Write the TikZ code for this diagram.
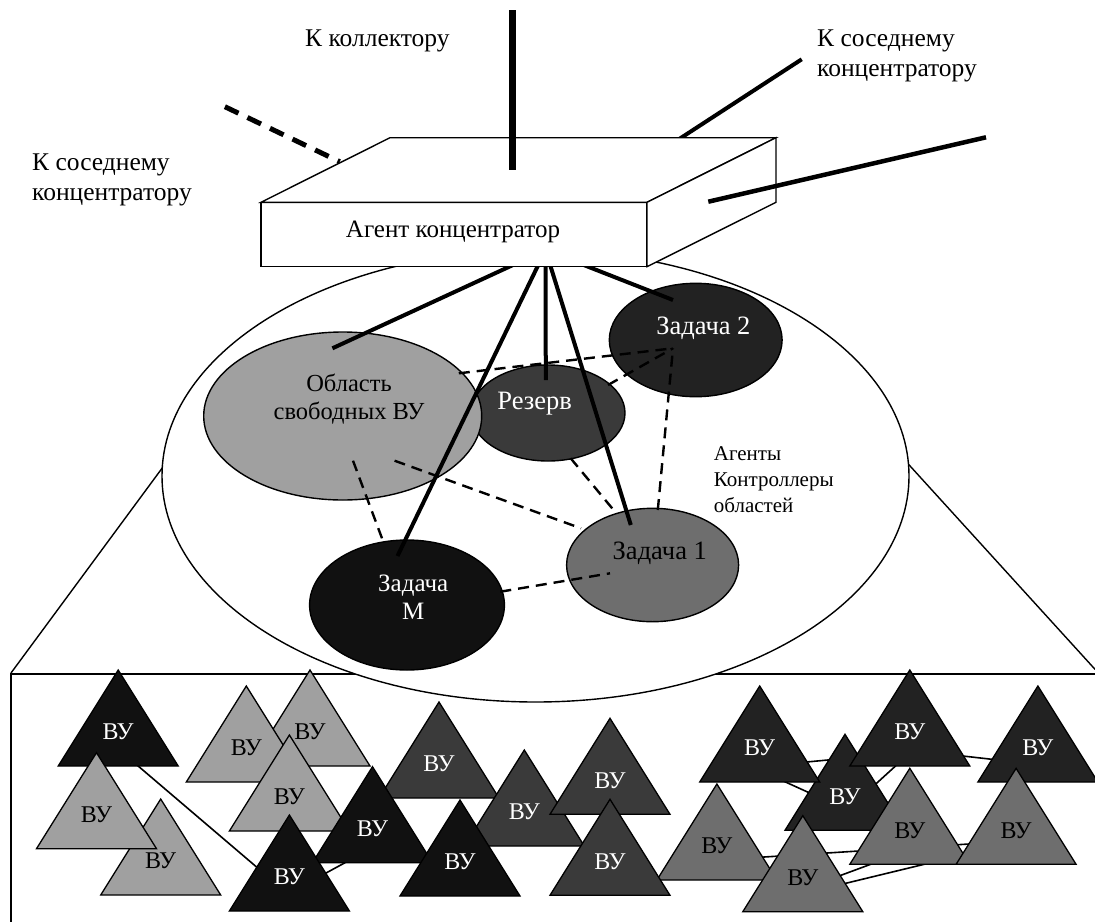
\documentclass[tikz,border=0pt]{standalone}
\usepackage{fontspec}
\setmainfont{Liberation Serif}
\newfontfamily\tnr{Liberation Serif}
\usetikzlibrary{shapes.geometric,calc,backgrounds}
\definecolor{lgray}{HTML}{A0A0A0}
\definecolor{mgray}{HTML}{6E6E6E}
\definecolor{dgray}{HTML}{3A3A3A}
\definecolor{vdgray}{HTML}{222222}
\definecolor{nblack}{HTML}{111111}

% one computing unit: triangle with apex at (#2,#3), label node #1
\newcommand\vu[5]{%
  \filldraw[tri, fill=#4] (#2,#3) -- ++(-60,96) -- ++(120,0) -- cycle;
  \node[vutext, text=#5] (#1) at (#2,#3+62) {ВУ};}

\begin{document}
\begin{tikzpicture}[x=1pt, y=-1pt,
  edge/.style={line width=1.4pt},
  area/.style={ellipse, draw, line width=1.4pt, inner sep=0pt, outer sep=0pt},
  link/.style={line width=4pt},
  dlink/.style={line width=2.4pt, dash pattern=on 11pt off 7pt},
  tri/.style={draw, line width=1.3pt, line join=miter},
  tie/.style={line width=1.6pt},
  vutext/.style={font=\tnr\fontsize{24}{26}\selectfont, inner sep=0pt},
  lbl/.style={font=\tnr\fontsize{25.5}{30}\selectfont, inner sep=0pt, align=left},
  etext/.style={font=\tnr\fontsize{25}{28}\selectfont, inner sep=0pt, align=center},
]
\useasboundingbox (0,0) rectangle (1095,921);

% ---- zoom cone from the controller area to the unit field ----
\coordinate (ctrlc) at (535.5,476);
\coordinate (cl) at (11,673);
\coordinate (cr) at (1095,669.3);
\draw[edge] ($(ctrlc)+(-360,-26)$) -- (cl);
\draw[edge] ($(ctrlc)+(360,-26)$) -- (cr);
\draw[edge] (1100,674) -- (11,674) -- (11,930);

% ---- controller area ----
\node[area, fill=white, minimum width=747pt, minimum height=452pt] (ctrl) at (ctrlc) {};

% ---- links to neighbouring hubs that pass behind the box ----
\coordinate (nbl) at (224.9,106.7);
\coordinate (nbr) at (801.7,59.3);
\coordinate (hubnw) at (261,202.3);
\draw[line width=5pt, dash pattern=on 15pt off 10pt] (nbl) -- ($(hubnw)+(78.7,-40.6)$);
\draw[line width=4pt] (nbr) -- ($(hubnw)+(417,-62.5)$);

% ---- regions ----
\node[area, fill=dgray, minimum width=154pt, minimum height=96pt] (rez) at (548,413) {};
\node[area, fill=lgray, minimum width=278pt, minimum height=168pt] (obl) at (342.7,416) {};
\node[area, fill=vdgray, minimum width=172.8pt, minimum height=113.4pt] (z2) at (695.7,340) {};
\node[area, fill=mgray, minimum width=172pt, minimum height=113.4pt] (z1) at (652.6,565) {};
\node[area, fill=nblack, minimum width=194.8pt, minimum height=130pt] (zm) at (407,605) {};

% ---- hub to region links (fan out from behind the box) ----
\coordinate (fan) at (545.5,250);
\draw[link] (fan) -- ($(obl.center)+(-10.3,-67.7)$);
\draw[link] (fan) -- ($(zm.center)+(-9.5,-49)$);
\draw[link] (fan) -- ($(rez.center)+(-2.2,-33)$);
\draw[link] (fan) -- ($(z1.center)+(-21.8,-40)$);
\draw[link] (fan) -- ($(z2.center)+(-22.7,-40)$);

% ---- hub box ----
\node[draw, fill=white, line width=1.4pt, minimum width=386pt, minimum height=64.4pt,
      inner sep=0pt, outer sep=0pt] (hub) at (454,234.5) {};
\filldraw[edge, fill=white, line join=miter] (hub.north west) -- ++(129,-64.6) -- ++(386,0)
  -- (hub.north east) -- cycle;
\filldraw[edge, fill=white, line join=miter] (hub.north east) -- ++(129,-64.6) -- ++(0,64.6)
  -- (hub.south east) -- cycle;
\node[font=\tnr\fontsize{25}{28}\selectfont, inner sep=0pt, anchor=base] (hubtxt) at (453,237.3)
  {Агент концентратор};

% ---- collector and right neighbour links ----
\coordinate (coll) at (512.7,10);
\coordinate (far) at (986,137.3);
\draw[line width=7.5pt] (coll) -- ($(hub.north)+(58.7,-32.3)$);
\draw[line width=4.5pt] ($(hub.north east)+(61.3,-0.6)$) -- (far);

% ---- links between regions ----
\draw[dlink] ($(obl.center)+(116.1,-42.7)$) -- ($(z2.center)+(-22.7,8.3)$);
\draw[dlink] ($(rez.center)+(60,-28)$) -- ($(z2.center)+(-22.7,8.3)$);
\draw[dlink] ($(z1.center)+(5.2,-55)$) -- ($(z2.center)+(-22.7,8.3)$);
\draw[dlink] ($(obl.center)+(10.3,44.7)$) -- ($(zm.center)+(-25,-66.7)$);
\draw[dlink] ($(obl.center)+(51.9,44.7)$) -- ($(z1.center)+(-71.6,-36.7)$);
\draw[dlink] ($(rez.center)+(22.7,45.3)$) -- ($(z1.center)+(-36.3,-51.7)$);
\draw[dlink] ($(zm.center)+(93.3,-13.3)$) -- ($(z1.center)+(-42.6,8.3)$);

% ---- region captions ----
\node[etext, font=\tnr\fontsize{24.5}{28}\selectfont, anchor=north] (obltxt) at (349,373.6)
  {Область\\свободных ВУ};
\node[etext, text=white, font=\tnr\fontsize{26.5}{28}\selectfont, anchor=base] (reztxt) at (534.7,409) {Резерв};
\node[etext, text=white, font=\tnr\fontsize{26.5}{28}\selectfont, anchor=base] (z2txt) at (703.4,334) {Задача 2};
\node[etext, font=\tnr\fontsize{26.5}{28}\selectfont, anchor=base] (z1txt) at (659.8,559) {Задача 1};
\node[etext, text=white, anchor=north] (zmtxt) at (413.2,575) {Задача\\M};

% ---- outer captions ----
\node[lbl, anchor=north west] (lcoll) at (305,29.5) {К коллектору};
\node[lbl, anchor=north west] (lnr) at (817,29.3) {К соседнему\\концентратору};
\node[lbl, anchor=north west] (lnl) at (32,154) {К соседнему\\концентратору};
\node[font=\tnr\fontsize{21}{26}\selectfont, inner sep=0pt, align=left, anchor=north west] (lagents)
  at (713.7,446.3) {Агенты\\Контроллеры\\областей};

% ---- computing units ----
\vu{t3}{160.7}{799}{lgray}{black}
\vu{t1}{118.2}{670}{nblack}{white}
\vu{t2}{96.5}{752.7}{lgray}{black}
\vu{t5}{310}{670}{lgray}{black}
\vu{t4}{246.3}{686}{lgray}{black}
\vu{t6}{289.4}{735}{lgray}{black}
\vu{t9}{439}{702}{dgray}{white}
\vu{t8}{372.5}{766.7}{nblack}{white}
\vu{t7}{289.4}{815}{nblack}{white}
\vu{t11}{524.3}{750}{dgray}{white}
\vu{t10}{460}{800}{nblack}{white}
\vu{t12}{610}{718.3}{dgray}{white}
\vu{t14}{716.9}{784}{mgray}{black}
\vu{t13}{610}{799.3}{dgray}{white}
\vu{t18}{1037.9}{686}{vdgray}{white}
\vu{t16}{845}{734.3}{vdgray}{white}
\vu{t17}{909.8}{670}{vdgray}{white}
\vu{t15}{759.7}{686}{vdgray}{white}
\vu{t20}{909.8}{768.3}{mgray}{black}
\vu{t21}{1016.1}{768.3}{mgray}{black}
\vu{t19}{802.8}{815.7}{mgray}{black}

% ---- links between units, behind the triangles ----
\begin{pgfonlayer}{background}
\draw[tie] ($(t1)+(0,17)$) -- ($(t7)+(0,18)$);
\draw[tie] ($(t7)+(0,16)$) -- ($(t8)+(0,19)$);
\draw[tie] ($(t14)+(0,14)$) -- ($(t21)+(0,10.7)$);
\draw[tie] ($(t19)+(0,11.7)$) -- ($(t20)+(0,19.5)$);
\draw[tie] ($(t19)+(0,16)$) -- ($(t21)+(0,11.7)$);
\draw[tie] ($(t15)+(0,18.4)$) -- ($(t17)+(0,20.3)$);
\draw[tie] ($(t17)+(0,18)$) -- ($(t18)+(0,16.5)$);
\draw[tie] ($(t15)+(0,22.3)$) -- ($(t16)+(0,12.7)$);
\draw[tie] ($(t16)+(0,15.7)$) -- ($(t17)+(0,21)$);
\end{pgfonlayer}
\end{tikzpicture}
\end{document}
